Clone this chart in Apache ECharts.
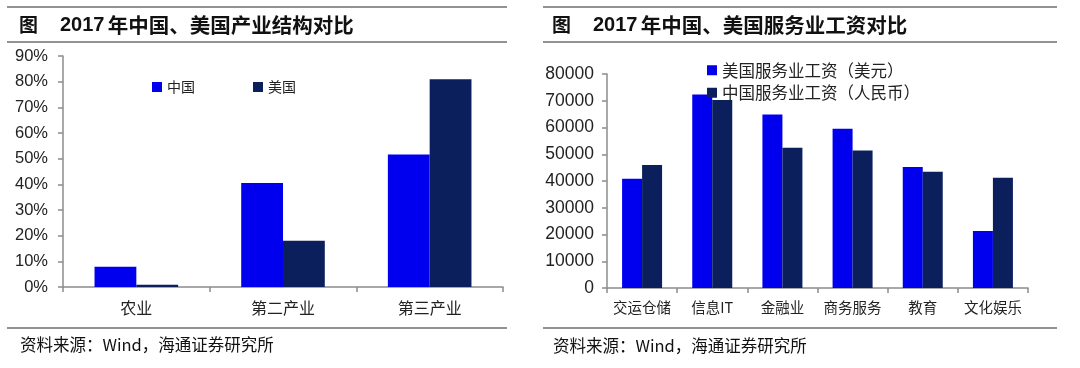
<!DOCTYPE html>
<html>
<head>
<meta charset="utf-8">
<script src="https://cdn.jsdelivr.net/npm/echarts@6/dist/echarts.min.js"></script>
<style>
html,body{margin:0;padding:0;background:#fff;}
#c{width:1080px;height:368px;}
</style>
</head>
<body>
<div id="c"></div>
<script>
// ---- Left chart data ----
const industryCats = ['农业', '第二产业', '第三产业'];
const chinaShare = [7.9, 40.5, 51.6];
const usShare = [0.9, 18.0, 80.9];
const pctTicks = {min: 0, max: 90, interval: 10};

// ---- Right chart data ----
const serviceCats = ['交运仓储', '信息IT', '金融业', '商务服务', '教育', '文化娱乐'];
const usWage = [40800, 72300, 64900, 59500, 45200, 21300];
const cnWage = [46000, 70300, 52400, 51400, 43500, 41200];
const wageTicks = {min: 0, max: 80000, interval: 10000};

const titleYear = '2017';
const titleLeft = '年中国、美国产业结构对比';
const titleRight = '年中国、美国服务业工资对比';
const sourceText = '资料来源：Wind，海通证券研究所';

const BLUE = '#0000ee';
const NAVY = '#0b1f5c';
const AXIS = '#8c8c8c';
const FONT = '"Noto Sans CJK SC", "Liberation Sans", Arial, sans-serif';
const NUMFONT = '"Liberation Sans", Arial, sans-serif';

const chart = echarts.init(document.getElementById('c'));

function hline(x1, x2, y) {
  return {type: 'line', shape: {x1: x1, y1: y, x2: x2, y2: y}, style: {stroke: '#6e6e6e', lineWidth: 1.5}, silent: true};
}
function txt(x, y, s, size, weight, family) {
  return {type: 'text', x: x, y: y, style: {text: s, fontSize: size, fontWeight: weight || 'normal', fontFamily: family || FONT, fill: '#111', verticalAlign: 'middle'}, silent: true};
}
function title(x, s) {
  return {
    type: 'text', x: x, y: 25, silent: true,
    style: {
      text: '{y|' + titleYear + '} {c|' + s + '}',
      verticalAlign: 'middle',
      fill: '#111',
      rich: {
        y: {fontSize: 20, fontWeight: 'bold', fontFamily: NUMFONT, fill: '#111'},
        c: {fontSize: 20.5, fontWeight: 'bold', fontFamily: FONT, fill: '#111'}
      }
    }
  };
}

const axisLineStyle = {show: true, lineStyle: {color: AXIS, width: 1.5}};

chart.setOption({
  animation: false,
  backgroundColor: '#fff',
  graphic: [
    hline(7, 507, 7), hline(7, 507, 42), hline(7, 507, 328),
    hline(543, 1057, 7), hline(543, 1057, 42), hline(543, 1057, 328),
    txt(19, 25, '图', 19, 'bold'),
    title(60, titleLeft),
    txt(552, 25, '图', 19, 'bold'),
    title(593, titleRight),
    txt(20, 345, sourceText, 16.5),
    txt(553, 346, sourceText, 16.5)
  ],
  legend: [
    {
      data: ['中国', '美国'],
      left: 147, top: 75,
      orient: 'horizontal',
      itemWidth: 10, itemHeight: 10, itemGap: 58,
      icon: 'rect',
      textStyle: {fontSize: 14, fontFamily: FONT, color: '#222'}
    },
    {
      data: ['美国服务业工资（美元）', '中国服务业工资（人民币）'],
      left: 702, top: 57,
      orient: 'vertical',
      itemWidth: 10, itemHeight: 10, itemGap: 6,
      icon: 'rect',
      textStyle: {fontSize: 16.5, fontFamily: FONT, color: '#222'}
    }
  ],
  grid: [
    {left: 63, top: 56, width: 440, height: 231, containLabel: false},
    {left: 607, top: 74, width: 421, height: 214, containLabel: false}
  ],
  xAxis: [
    {
      type: 'category', gridIndex: 0, data: industryCats,
      axisLine: axisLineStyle,
      axisTick: {show: true, length: 5, lineStyle: {color: AXIS, width: 1.5}},
      axisLabel: {fontSize: 16, fontFamily: FONT, color: '#222', margin: 13, interval: 0}
    },
    {
      type: 'category', gridIndex: 1, data: serviceCats,
      axisLine: axisLineStyle,
      axisTick: {show: true, length: 5, lineStyle: {color: AXIS, width: 1.5}},
      axisLabel: {fontSize: 14.5, fontFamily: FONT, color: '#222', margin: 12, interval: 0}
    }
  ],
  yAxis: [
    {
      type: 'value', gridIndex: 0, min: pctTicks.min, max: pctTicks.max, interval: pctTicks.interval,
      axisLine: axisLineStyle,
      axisTick: {show: true, length: 5, lineStyle: {color: AXIS, width: 1.5}},
      splitLine: {show: false},
      axisLabel: {formatter: '{value}%', fontSize: 16.5, fontFamily: NUMFONT, color: '#222', margin: 15}
    },
    {
      type: 'value', gridIndex: 1, min: wageTicks.min, max: wageTicks.max, interval: wageTicks.interval,
      axisLine: axisLineStyle,
      axisTick: {show: true, length: 5, lineStyle: {color: AXIS, width: 1.5}},
      splitLine: {show: false},
      axisLabel: {formatter: function (v) { return String(v); }, fontSize: 17.5, fontFamily: NUMFONT, color: '#222', margin: 13}
    }
  ],
  series: [
    {name: '中国', type: 'bar', xAxisIndex: 0, yAxisIndex: 0, data: chinaShare, itemStyle: {color: BLUE}, barGap: '0%', barCategoryGap: '43%'},
    {name: '美国', type: 'bar', xAxisIndex: 0, yAxisIndex: 0, data: usShare, itemStyle: {color: NAVY}, barGap: '0%', barCategoryGap: '43%'},
    {name: '美国服务业工资（美元）', type: 'bar', xAxisIndex: 1, yAxisIndex: 1, data: usWage, itemStyle: {color: BLUE}, barGap: '0%', barCategoryGap: '43%'},
    {name: '中国服务业工资（人民币）', type: 'bar', xAxisIndex: 1, yAxisIndex: 1, data: cnWage, itemStyle: {color: NAVY}, barGap: '0%', barCategoryGap: '43%'}
  ]
});
</script>
</body>
</html>
